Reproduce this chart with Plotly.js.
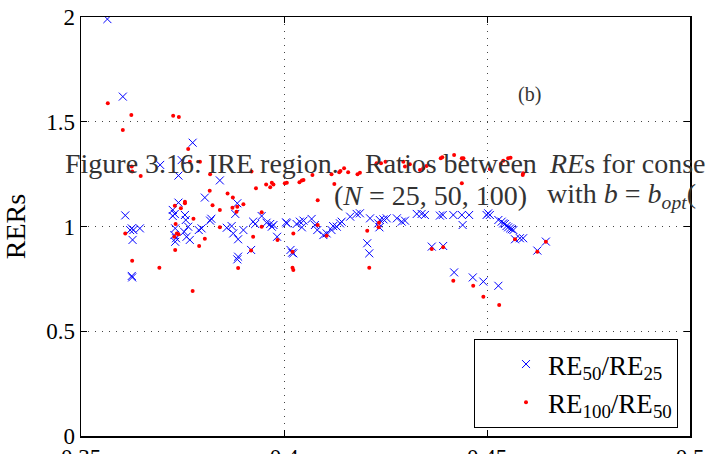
<!DOCTYPE html>
<html>
<head>
<meta charset="utf-8">
<script src="https://cdn.plot.ly/plotly-3.0.1.min.js"></script>
<style>
html,body{margin:0;padding:0;background:#fff;}
#chart{width:707px;height:454px;}
</style>
</head>
<body>
<div id="chart"></div>
<script>
// RE50/RE25 (blue crosses)
var re50x = [0.3565,0.3603,0.3775,0.3748,0.3695,0.3740,0.3842,0.3805,0.3740,0.3885,0.3726,0.3731,0.3726,0.3756,0.3880,0.3609,0.3945,0.3821,0.3818,0.3758,0.3924,0.3929,0.3957,0.3966,0.3974,0.3970,0.4005,0.4031,0.3625,0.3621,0.3629,0.3645,0.3627,0.3625,0.3626,0.3732,0.3730,0.3734,0.3732,0.3764,0.3754,0.3760,0.3768,0.3790,0.3797,0.3859,0.3871,0.3875,0.3887,0.3900,0.3983,0.3919,0.3887,0.3885,0.4016,0.4020,
 0.4007,0.4039,0.4048,0.4044,0.4068,0.4076,0.4082,0.4097,0.4105,0.4117,0.4121,0.4130,0.4138,0.4142,0.4163,0.4179,0.4187,0.4023,0.4212,0.4236,0.4245,0.4253,0.4232,0.4235,0.4278,0.4290,0.4298,0.4205,0.4210,0.4327,0.4339,0.4347,0.4384,0.4391,0.4417,0.4438,0.4440,0.4456,0.4503,0.4507,0.4499,0.4528,0.4364,0.4392,0.4419,0.4465,0.4491,0.4528,0.4536,0.4540,0.4544,0.4548,0.4552,0.4557,0.4561,0.4565,0.4569,0.4581,0.4589,0.4624,0.4645];
var re50y = [1.99,1.62,1.40,1.317,1.294,1.243,1.220,1.138,1.114,1.111,1.079,1.060,1.050,1.055,1.060,1.053,1.050,1.037,1.028,1.031,1.023,1.012,1.018,1.012,1.007,0.999,1.020,1.012,0.991,0.983,0.983,0.991,0.936,0.764,0.757,0.991,0.959,0.944,0.927,0.999,0.975,0.951,0.936,0.983,0.991,0.994,1.002,0.967,0.939,0.983,0.951,0.888,0.856,0.843,0.888,0.875,
 1.015,1.023,1.028,0.996,1.036,1.007,0.983,0.959,0.967,0.983,1.002,0.999,1.015,1.023,1.047,1.060,1.063,0.872,1.039,1.031,1.034,1.039,1.015,0.996,1.039,1.023,1.028,0.920,0.872,1.060,1.060,1.055,1.052,1.055,1.055,1.055,1.007,1.055,1.063,1.055,1.055,1.031,0.904,0.907,0.781,0.757,0.737,0.717,1.023,1.015,1.012,1.002,0.996,0.991,0.987,0.983,0.939,0.944,0.944,0.885,0.928];

// RE100/RE50 (red dots)
var re100x = [0.3566,0.3624,0.3603,0.3727,0.3741,0.3764,0.3768,0.3793,0.3625,0.3626,0.3647,0.3818,0.3920,0.3817,0.3861,0.3874,0.3756,0.3756,0.3900,0.3824,0.3885,0.3873,0.3731,0.3842,0.3746,0.3883,0.3945,0.3777,0.3945,0.4023,0.3609,0.3626,0.3693,0.3775,0.3736,0.3730,0.3740,0.3732,0.3733,0.3805,0.3791,0.3842,0.3924,0.3984,0.3919,0.3887,0.4021,0.4021,0.4023,
 0.3970,0.3974,0.3966,0.3956,0.3931,0.4002,0.4007,0.4038,0.4044,0.4048,0.4070,0.4083,0.4117,0.4136,0.4139,0.4158,0.4148,0.4124,0.4181,0.4187,0.4228,0.4239,0.4250,0.4294,0.4298,0.4310,0.4335,0.4343,0.4351,0.4386,0.4390,0.4419,0.4438,0.4442,0.4438,0.4507,0.4534,0.4540,0.4552,0.4558,0.4588,0.4589,
 0.4083,0.4105,0.4205,0.4234,0.4233,0.4210,0.4364,0.4392,0.4417,0.4466,0.4491,0.4530,0.4569,0.4624,0.4645];
var re100y = [1.588,1.532,1.461,1.529,1.523,1.37,1.309,1.309,1.286,1.262,1.241,1.249,1.262,1.171,1.158,1.139,1.118,1.111,1.106,1.101,1.094,1.090,1.099,1.079,1.087,1.071,1.068,1.037,0.999,0.967,0.967,0.837,0.803,0.692,0.967,0.951,0.963,0.888,1.012,0.942,0.907,0.996,0.951,0.936,0.885,0.802,0.880,0.803,0.792,
 1.209,1.201,1.187,1.201,1.182,1.206,1.209,1.211,1.219,1.222,1.246,1.125,1.249,1.259,1.265,1.259,1.278,1.203,1.249,1.257,1.302,1.302,1.309,1.309,1.286,1.297,1.270,1.278,1.289,1.326,1.330,1.341,1.326,1.326,1.206,1.274,1.298,1.314,1.326,1.328,1.246,1.254,
 1.007,0.956,0.980,1.018,0.996,0.803,0.893,0.901,0.741,0.717,0.665,0.625,0.939,0.880,0.927];

var xTickVals = [0.35,0.4,0.45,0.5];
var xTickText = ['0.35','0.4','0.45','0.5'];
var yTickVals = [0,0.5,1,1.5,2];
var yTickText = ['0','0.5','1','1.5','2'];
var seriesNames = ['RE<sub>50</sub>/RE<sub>25</sub>','RE<sub>100</sub>/RE<sub>50</sub>'];

var SERIF = '"Liberation Serif", "Times New Roman", serif';

var traces = [
  {x: re50x, y: re50y, type:'scatter', mode:'markers', name: seriesNames[0], legendgroup:'a',
   marker:{symbol:'x-thin-open', size:8, color:'#0000ff', line:{color:'#0000ff', width:1}}},
  {x: re100x, y: re100y, type:'scatter', mode:'markers', name: seriesNames[1], legendgroup:'b',
   marker:{symbol:'circle', size:4, color:'#ff0000', line:{width:0}}}
];

// pixel -> paper helpers for text placement
var L=81, R=17, T=17, B=18, W=707, H=454;
function px(x){return (x-L)/(W-L-R);}
function py(y){return (H-B-y)/(H-T-B);}

function ann(text, x, y, size, anchor){
  return {xref:'paper', yref:'paper', x:px(x), y:py(y), text:text, showarrow:false,
          xanchor: anchor||'left', yanchor:'middle', font:{family:SERIF, size:size||28, color:'#333333'}};
}

var layout = {
  width: W, height: H,
  margin:{l:L, r:R, t:T, b:B, pad:0},
  paper_bgcolor:'#ffffff', plot_bgcolor:'#ffffff',
  showlegend:true,
  font:{family:SERIF, size:23, color:'#000'},
  xaxis:{range:[0.35,0.5], tickvals:xTickVals, ticktext:xTickText,
         showgrid:true, gridcolor:'#444', gridwidth:1, griddash:'1px,6px',
         showline:true, linecolor:'#000', linewidth:1.5, mirror:'ticks',
         ticks:'inside', ticklen:6, tickwidth:1, tickcolor:'#000', zeroline:false,
         tickfont:{family:SERIF, size:23, color:'#000'}, fixedrange:true},
  yaxis:{range:[0,2], tickvals:yTickVals, ticktext:yTickText,
         showgrid:true, gridcolor:'#444', gridwidth:1, griddash:'1px,6px',
         showline:true, linecolor:'#000', linewidth:1.5, mirror:'ticks',
         ticks:'inside', ticklen:6, tickwidth:1, tickcolor:'#000', zeroline:false,
         tickfont:{family:SERIF, size:23, color:'#000'},
         title:{text:'RERs', font:{family:SERIF, size:28, color:'#000'}, standoff:14}, fixedrange:true},
  legend:{x:px(678), y:py(428), xanchor:'right', yanchor:'bottom',
          bgcolor:'#ffffff', bordercolor:'#000', borderwidth:1, traceorder:'grouped', tracegroupgap:0,
          font:{family:SERIF, size:27, color:'#000'}, itemwidth:34, indentation:29},
  annotations:[
    ann('(b)', 529, 95, 20, 'center'),
    ann('Figure 3.16:', 63, 163),
    ann('IRE region.', 206, 163),
    ann('Ratios between', 363, 163),
    ann('<i>RE</i>s for conse', 547, 163),
    ann('(<i>N</i> = 25, 50, 100)', 332, 195),
    ann('with <i>b</i> = <i>b</i><sub><i>opt</i></sub>(', 545, 195)
  ]
};

Plotly.newPlot('chart', traces, layout, {staticPlot:true, displayModeBar:false});
</script>
</body>
</html>
